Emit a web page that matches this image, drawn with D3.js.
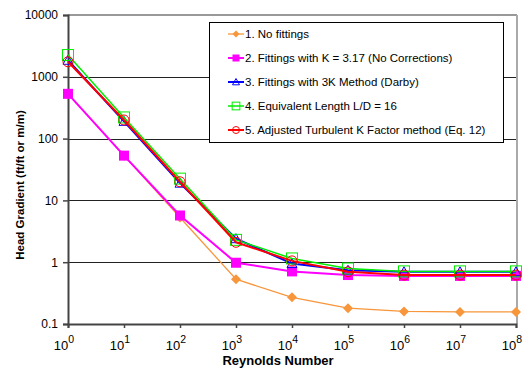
<!DOCTYPE html>
<html><head><meta charset="utf-8">
<script src="https://cdn.jsdelivr.net/npm/d3@7"></script>
<style>body{margin:0;background:#fff;font-family:Arial,"Liberation Sans",sans-serif}</style>
</head><body><svg id="c" width="530" height="369"></svg>
<script>
const reynolds = [1, 10, 100, 1e3, 1e4, 1e5, 1e6, 1e7, 1e8];
const noFittings = [530, 53, 5.3, 0.53, 0.27, 0.18, 0.16, 0.157, 0.157];
const kConst = [530, 53, 5.7, 0.98, 0.71, 0.62, 0.6, 0.6, 0.6];
const threeK = [1850, 190, 19, 2.4, 0.95, 0.74, 0.7, 0.7, 0.7];
const equivLength = [2250, 220, 22.5, 2.3, 1.15, 0.79, 0.71, 0.71, 0.71];
const adjustedK = [1750, 200, 20, 2.1, 1.05, 0.7, 0.62, 0.62, 0.62];
const seriesNames = ["1. No fittings", "2. Fittings with K = 3.17 (No Corrections)", "3. Fittings with 3K Method (Darby)", "4. Equivalent Length L/D = 16", "5. Adjusted Turbulent K Factor method (Eq. 12)"];
const yTicks = [0.1, 1, 10, 100, 1000, 10000];
const yTickLabels = ["0.1", "1", "10", "100", "1000", "10000"];
const xExponents = [0, 1, 2, 3, 4, 5, 6, 7, 8];

const svg = d3.select("#c");
const L = 68, R = 516, T = 15, B = 324;
const x = d3.scaleLog().domain([1, 1e8]).range([L, R]);
const y = d3.scaleLog().domain([0.1, 10000]).range([B, T]);

// plot border (top/right grey)
svg.append("line").attr("x1", L).attr("x2", R + 1).attr("y1", T).attr("y2", T).attr("stroke", "#999").attr("stroke-width", 2);
svg.append("line").attr("x1", R + 1).attr("x2", R + 1).attr("y1", T).attr("y2", B).attr("stroke", "#aaa").attr("stroke-width", 2);

// gridlines
svg.append("g").selectAll("line").data(yTicks.slice(1, 5)).join("line")
  .attr("x1", L).attr("x2", R).attr("y1", d => Math.round(y(d)) + 0.5).attr("y2", d => Math.round(y(d)) + 0.5)
  .attr("stroke", "#222").attr("stroke-width", 1);

// axes
const yAxis = d3.axisLeft(y).tickValues(yTicks).tickFormat((d, i) => yTickLabels[i]).tickSize(5).tickPadding(5);
const gy = svg.append("g").attr("transform", `translate(${L},0)`).call(yAxis);
gy.select(".domain").attr("stroke", "#444").attr("stroke-width", 2);
gy.selectAll(".tick line").attr("stroke", "#444").attr("stroke-width", 1.5);
gy.selectAll("text").attr("font-size", 12).attr("fill", "#000").attr("font-family", "Arial, Liberation Sans, sans-serif");

const xAxis = d3.axisBottom(x).tickValues(reynolds).tickFormat("").tickSize(4);
const gx = svg.append("g").attr("transform", `translate(0,${B})`).call(xAxis);
gx.select(".domain").attr("stroke", "#444").attr("stroke-width", 2);
gx.selectAll(".tick line").attr("stroke", "#444").attr("stroke-width", 1.5);

const xl = svg.append("g").selectAll("text").data(xExponents).join("text")
  .attr("x", d => x(Math.pow(10, d)) - 4).attr("y", 350)
  .attr("text-anchor", "middle").attr("font-size", 13).attr("fill", "#000");
xl.append("tspan").text("10");
xl.append("tspan").attr("dy", -7).attr("font-size", 10.5).text(d => d);

svg.append("text").attr("x", 278).attr("y", 365).attr("text-anchor", "middle")
  .attr("font-size", 13).attr("font-weight", "bold").text("Reynolds Number");
svg.append("text").attr("transform", "translate(24,185) rotate(-90)").attr("text-anchor", "middle")
  .attr("font-size", 11.5).attr("font-weight", "bold").text("Head Gradient (ft/ft or m/m)");

const series = [
  {vals: noFittings, color: "#f7963a", width: 1.3, marker: "diamond"},
  {vals: kConst, color: "#ff00ff", width: 2, marker: "fsquare"},
  {vals: threeK, color: "#0000ff", width: 2, marker: "triangle"},
  {vals: equivLength, color: "#00ee00", width: 1.5, marker: "square"},
  {vals: adjustedK, color: "#ff0000", width: 2, marker: "circle"}
];

function drawMarker(g, type, color, cx, cy, s) {
  s = s || 1;
  if (type === "diamond") {
    const r = 5 * s;
    g.append("path").attr("d", `M${cx},${cy - r}L${cx + r},${cy}L${cx},${cy + r}L${cx - r},${cy}Z`).attr("fill", color);
  } else if (type === "fsquare") {
    const r = 5 * s;
    g.append("rect").attr("x", cx - r).attr("y", cy - r).attr("width", 2 * r).attr("height", 2 * r).attr("fill", color);
  } else if (type === "triangle") {
    const r = 5 * s;
    g.append("path").attr("d", `M${cx},${cy - r}L${cx + r},${cy + r * 0.8}L${cx - r},${cy + r * 0.8}Z`).attr("fill", "none").attr("stroke", color).attr("stroke-width", 1);
  } else if (type === "square") {
    const r = 5.5 * s;
    g.append("rect").attr("x", cx - r).attr("y", cy - r).attr("width", 2 * r).attr("height", 2 * r).attr("fill", "none").attr("stroke", color).attr("stroke-width", 1);
  } else if (type === "circle") {
    g.append("circle").attr("cx", cx).attr("cy", cy).attr("r", 5 * s).attr("fill", "none").attr("stroke", color).attr("stroke-width", 1);
  }
}

const line = d3.line().x(d => x(d[0])).y(d => y(d[1]));
series.forEach(s => {
  const pts = reynolds.map((r, i) => [r, s.vals[i]]);
  const g = svg.append("g");
  g.append("path").attr("d", line(pts)).attr("fill", "none").attr("stroke", s.color).attr("stroke-width", s.width);
  pts.forEach(p => drawMarker(g, s.marker, s.color, x(p[0]), y(p[1])));
});

// legend
const lg = svg.append("g");
lg.append("rect").attr("x", 209.5).attr("y", 22.5).attr("width", 294).attr("height", 120).attr("fill", "#fff").attr("stroke", "#000").attr("stroke-width", 1);
seriesNames.forEach((name, i) => {
  const ly = 34 + i * 24;
  const s = series[i];
  lg.append("line").attr("x1", 228).attr("x2", 244).attr("y1", ly).attr("y2", ly).attr("stroke", s.color).attr("stroke-width", s.width);
  drawMarker(lg, s.marker, s.color, 236, ly, 0.7);
  lg.append("text").attr("x", 245).attr("y", ly + 4).attr("font-size", 11.5).attr("fill", "#000").text(name);
});
</script></body></html>
